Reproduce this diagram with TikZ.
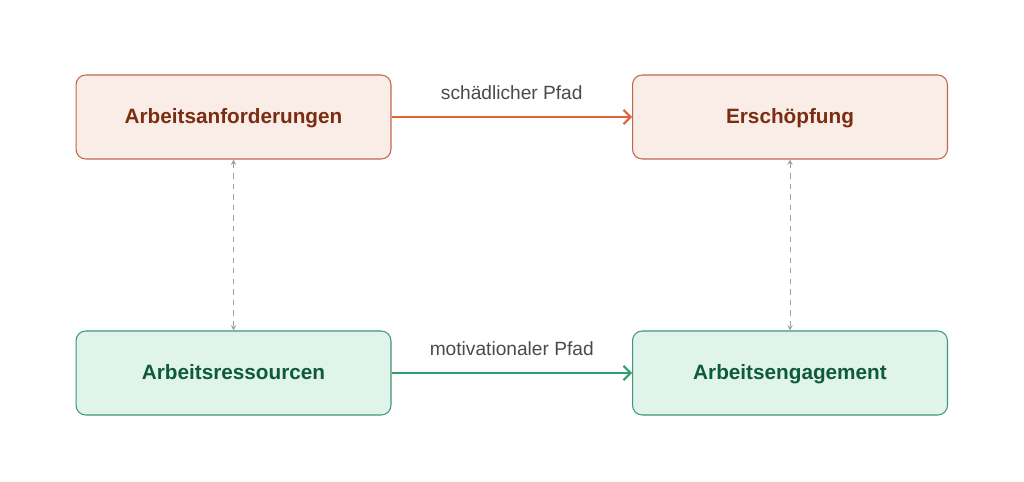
\documentclass[tikz,border=0pt]{standalone}
\usepackage{fontspec}
\setmainfont{Liberation Sans}
\usepackage{tikz}
\usetikzlibrary{arrows.meta}

\definecolor{redfill}{HTML}{FAECE6}
\definecolor{redline}{HTML}{C0654A}
\definecolor{redtext}{HTML}{7B2D12}
\definecolor{redarrow}{HTML}{E0623A}
\definecolor{greenfill}{HTML}{E1F4EC}
\definecolor{greenline}{HTML}{3A9A72}
\definecolor{greentext}{HTML}{0E5A3C}
\definecolor{greenarrow}{HTML}{2E9E74}
\definecolor{dashgray}{HTML}{A0A0A0}
\definecolor{labelgray}{HTML}{4A4A4A}

\tikzset{
  box/.style={draw, rounded corners=5.5pt, line width=0.6pt, minimum width=6.3cm,
    minimum height=1.68cm, text height=1.75ex, text depth=0.45ex,
    font=\fontsize{11.8}{14}\selectfont\bfseries},
  redbox/.style={box, fill=redfill, draw=redline, text=redtext},
  greenbox/.style={box, fill=greenfill, draw=greenline, text=greentext},
  pathlabel/.style={font=\fontsize{10.9}{13}\selectfont, text=labelgray},
}

\begin{document}
\begin{tikzpicture}[x=0.02cm, y=-0.02cm]
    \useasboundingbox (0, 0) rectangle (1024, 482);
    \node[redbox] (anf) at (233.5, 117) {Arbeitsanforderungen};
    \node[redbox] (ers) at (790, 117) {Erschöpfung};
    \node[greenbox] (res) at (233.5, 373) {Arbeitsressourcen};
    \node[greenbox] (eng) at (790, 373) {Arbeitsengagement};
    \draw[-{Straight Barb[length=4pt, width=8pt]}, line width=1.2pt, color=redarrow] (anf) -- node[above=6pt, pathlabel] {schädlicher Pfad} (ers);
    \draw[-{Straight Barb[length=4pt, width=8pt]}, line width=1.2pt, color=greenarrow] (res) -- node[above=6pt, pathlabel] {motivationaler Pfad} (eng);
    \draw[{Stealth[length=3pt, width=3pt]}-{Stealth[length=3pt, width=3pt]}, dashed, line width=0.5pt, color=dashgray] (anf) -- (res);
    \draw[{Stealth[length=3pt, width=3pt]}-{Stealth[length=3pt, width=3pt]}, dashed, line width=0.5pt, color=dashgray] (ers) -- (eng);
\end{tikzpicture}
\end{document}
